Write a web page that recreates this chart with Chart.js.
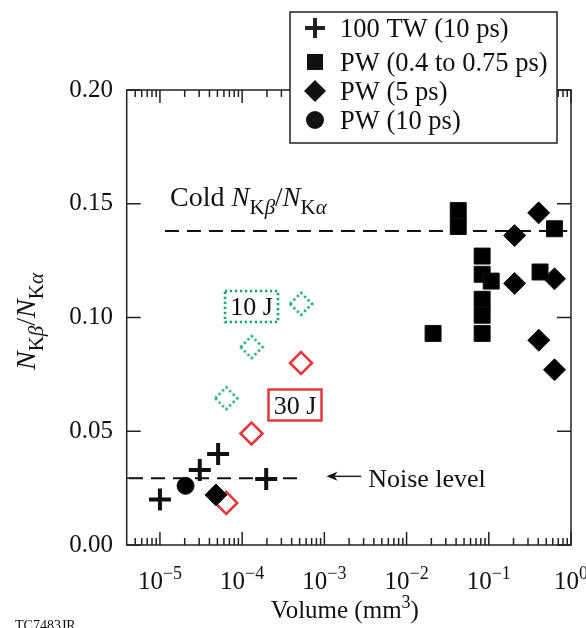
<!DOCTYPE html>
<html>
<head>
<meta charset="utf-8">
<script src="https://cdn.jsdelivr.net/npm/chart.js@4.4.1/dist/chart.umd.min.js"></script>
<style>
  html, body { margin: 0; padding: 0; background: #fff; }
  canvas { display: block; }
</style>
</head>
<body>
<canvas id="myChart" width="586" height="628"></canvas>
<script>
// values (volume in mm^3, ratio N_Kb/N_Ka)
const twVolume = [1.0e-5, 3.05e-5, 5.1e-5, 1.96e-4];
const twRatio = [0.020, 0.033, 0.040, 0.029];

const pwShortVolume = [0.021, 0.0425, 0.0425, 0.083, 0.083, 0.107, 0.083, 0.083, 0.083, 0.42, 0.63];
const pwShortRatio = [0.093, 0.147, 0.140, 0.127, 0.119, 0.116, 0.108, 0.101, 0.093, 0.120, 0.139];

const pw5Volume = [4.8e-5, 0.206, 0.206, 0.404, 0.63, 0.406, 0.63];
const pw5Ratio = [0.022, 0.136, 0.115, 0.146, 0.117, 0.090, 0.077];

const pw10Volume = [2.05e-5];
const pw10Ratio = [0.026];

const shot30Volume = [6.4e-5, 1.3e-4, 5.2e-4];
const shot30Ratio = [0.0185, 0.049, 0.080];

const shot10Volume = [6.4e-5, 1.3e-4, 5.2e-4];
const shot10Ratio = [0.0645, 0.087, 0.106];

const coldLevel = 0.138;
const coldRange = [1.15e-5, 0.9];
const noiseLevel = 0.0293;
const noiseRange = [4.2e-6, 5.7e-4];

const xDecades = [-5, -4, -3, -2, -1, 0];
const yTicks = [0, 0.05, 0.10, 0.15, 0.20];

const serif = "'Liberation Serif', 'Times New Roman', serif";
const red = "#e0393e";
const green = "#0fa86b";

function pairs(xs, ys) {
    return xs.map((x, i) => ({ x: x, y: ys[i] }));
}

// dotted hollow diamond used for the 10 J shots
function dottedDiamond(r) {
    const c = document.createElement("canvas");
    const s = Math.ceil(r * 2 + 6);
    c.width = s;
    c.height = s;
    const g = c.getContext("2d");
    const m = s / 2;
    g.strokeStyle = green;
    g.lineWidth = 2.6;
    g.setLineDash([2.2, 2.8]);
    g.beginPath();
    g.moveTo(m - r, m);
    g.lineTo(m, m - r);
    g.lineTo(m + r, m);
    g.lineTo(m, m + r);
    g.closePath();
    g.stroke();
    return c;
}

function drawRich(ctx, parts, x, y, align) {
    let w = 0;
    parts.forEach((p) => {
        ctx.font = p.font;
        p.w = ctx.measureText(p.text).width;
        w += p.w;
    });
    let cx = align === "center" ? x - w / 2 : align === "right" ? x - w : x;
    parts.forEach((p) => {
        ctx.font = p.font;
        ctx.fillText(p.text, cx, y + (p.dy || 0));
        cx += p.w;
    });
    return w;
}

function ratioLabel(size, sub) {
    const it = "italic " + size + "px " + serif;
    const rm = size + "px " + serif;
    const sRm = sub + "px " + serif;
    const sIt = "italic " + sub + "px " + serif;
    const d = Math.round(size * 0.28);
    return [
        { text: "N", font: it },
        { text: "K", font: sRm, dy: d },
        { text: "\u03B2", font: sIt, dy: d },
        { text: "/", font: rm },
        { text: "N", font: it },
        { text: "K", font: sRm, dy: d },
        { text: "\u03B1", font: sIt, dy: d },
    ];
}

const framePlugin = {
    id: "frame",
    afterDatasetsDraw(chart) {
        const ctx = chart.ctx;
        const a = chart.chartArea;
        const xs = chart.scales.x;
        const ys = chart.scales.y;
        ctx.save();
        ctx.strokeStyle = "#222";
        ctx.fillStyle = "#111";
        ctx.lineWidth = 1.5;
        ctx.strokeRect(a.left, a.top, a.right - a.left, a.bottom - a.top);

        // log ticks, top and bottom, pointing inward
        ctx.beginPath();
        for (let k = -6; k <= 0; k++) {
            for (let m = 1; m <= 9; m++) {
                const v = m * Math.pow(10, k);
                if (v < xs.min * 1.02 || v > xs.max * 1.001) continue;
                const px = xs.getPixelForValue(v);
                const len = m === 1 ? 13 : 7;
                ctx.moveTo(px, a.bottom);
                ctx.lineTo(px, a.bottom - len);
                ctx.moveTo(px, a.top);
                ctx.lineTo(px, a.top + len);
            }
        }
        yTicks.forEach((v) => {
            const py = ys.getPixelForValue(v);
            ctx.moveTo(a.left, py);
            ctx.lineTo(a.left + 14, py);
            ctx.moveTo(a.right, py);
            ctx.lineTo(a.right - 14, py);
        });
        const pn = ys.getPixelForValue(noiseLevel);
        ctx.moveTo(a.left, pn);
        ctx.lineTo(a.left + 14, pn);
        ctx.stroke();

        // tick labels
        ctx.textBaseline = "middle";
        ctx.textAlign = "left";
        yTicks.forEach((v) => {
            ctx.font = "25px " + serif;
            const t = v.toFixed(2);
            const w = ctx.measureText(t).width;
            ctx.fillText(t, 113 - w, ys.getPixelForValue(v));
        });
        ctx.textBaseline = "alphabetic";
        xDecades.forEach((k) => {
            const px = xs.getPixelForValue(Math.pow(10, k));
            const exp = k < 0 ? "\u2212" + (-k) : String(k);
            drawRich(ctx, [
                { text: "10", font: "25px " + serif },
                { text: exp, font: "18px " + serif, dy: -10 },
            ], px, 589, "center");
        });

        // axis titles
        drawRich(ctx, [
            { text: "Volume (mm", font: "25px " + serif },
            { text: "3", font: "18px " + serif, dy: -10 },
            { text: ")", font: "25px " + serif },
        ], (a.left + a.right) / 2 - 4, 618, "center");

        ctx.save();
        ctx.translate(35, (a.top + a.bottom) / 2 + 4);
        ctx.rotate(-Math.PI / 2);
        drawRich(ctx, ratioLabel(28, 21), 0, 0, "center");
        ctx.restore();

        ctx.font = "14px " + serif;
        ctx.fillText("TC7483JR", 15, 630);

        // annotations
        drawRich(ctx, [{ text: "Cold ", font: "28px " + serif }].concat(ratioLabel(27, 21)), 170, 206, "left");

        const ax0 = xs.getPixelForValue(1.06e-3);
        const ax1 = xs.getPixelForValue(2.8e-3);
        const ay = pn - 2;
        ctx.beginPath();
        ctx.moveTo(ax0 + 8, ay);
        ctx.lineTo(ax1, ay);
        ctx.stroke();
        ctx.beginPath();
        ctx.moveTo(ax0, ay);
        ctx.lineTo(ax0 + 11, ay - 4.5);
        ctx.lineTo(ax0 + 8, ay);
        ctx.lineTo(ax0 + 11, ay + 4.5);
        ctx.closePath();
        ctx.fill();
        drawRich(ctx, [{ text: "Noise level", font: "26px " + serif }], ax1 + 7, 487, "left");

        // 10 J box
        ctx.save();
        ctx.strokeStyle = green;
        ctx.lineWidth = 2.6;
        ctx.setLineDash([2.2, 2.8]);
        ctx.strokeRect(225, 291, 53, 31);
        ctx.restore();
        drawRich(ctx, [{ text: "10 J", font: "26px " + serif }], 251.5, 315, "center");

        // 30 J box
        ctx.save();
        ctx.strokeStyle = red;
        ctx.lineWidth = 2.5;
        ctx.strokeRect(268.5, 389.5, 53, 31);
        ctx.restore();
        drawRich(ctx, [{ text: "30 J", font: "26px " + serif }], 295, 414, "center");

        // legend
        ctx.fillStyle = "#fff";
        ctx.fillRect(290, 12, 267, 131);
        ctx.strokeRect(290, 12, 267, 131);
        ctx.fillStyle = "#111";
        const lx = 315;
        const ly = [28, 62, 91, 120];
        ctx.lineWidth = 4;
        ctx.beginPath();
        ctx.moveTo(lx - 10, ly[0]);
        ctx.lineTo(lx + 10, ly[0]);
        ctx.moveTo(lx, ly[0] - 10);
        ctx.lineTo(lx, ly[0] + 10);
        ctx.stroke();
        ctx.fillRect(lx - 8, ly[1] - 8, 16, 16);
        ctx.beginPath();
        ctx.moveTo(lx - 11, ly[2]);
        ctx.lineTo(lx, ly[2] - 11);
        ctx.lineTo(lx + 11, ly[2]);
        ctx.lineTo(lx, ly[2] + 11);
        ctx.closePath();
        ctx.fill();
        ctx.beginPath();
        ctx.arc(lx, ly[3], 9, 0, Math.PI * 2);
        ctx.fill();
        const names = ["100 TW (10 ps)", "PW (0.4 to 0.75 ps)", "PW (5 ps)", "PW (10 ps)"];
        names.forEach((n, i) => {
            drawRich(ctx, [{ text: n, font: "26.5px " + serif }], 340, ly[i] + 9, "left");
        });
        ctx.restore();
    },
};

const ctx = document.getElementById("myChart").getContext("2d");
const myChart = new Chart(ctx, {
    type: "scatter",
    data: {
        datasets: [
            {
                label: "100 TW (10 ps)",
                data: pairs(twVolume, twRatio),
                pointStyle: "cross",
                pointRadius: 11,
                borderWidth: 4,
                borderColor: "#111",
                backgroundColor: "#111",
            },
            {
                label: "PW (0.4 to 0.75 ps)",
                data: pairs(pwShortVolume, pwShortRatio),
                pointStyle: "rect",
                pointRadius: 11.3,
                borderWidth: 1,
                borderColor: "#111",
                backgroundColor: "#000",
            },
            {
                label: "PW (5 ps)",
                data: pairs(pw5Volume, pw5Ratio),
                pointStyle: "rectRot",
                pointRadius: 11,
                borderWidth: 1,
                borderColor: "#111",
                backgroundColor: "#000",
            },
            {
                label: "PW (10 ps)",
                data: pairs(pw10Volume, pw10Ratio),
                pointStyle: "circle",
                pointRadius: 8.5,
                borderWidth: 1,
                borderColor: "#111",
                backgroundColor: "#000",
            },
            {
                label: "30 J",
                data: pairs(shot30Volume, shot30Ratio),
                pointStyle: "rectRot",
                pointRadius: 11,
                borderWidth: 2.6,
                borderColor: red,
                backgroundColor: "#fff",
            },
            {
                label: "10 J",
                data: pairs(shot10Volume, shot10Ratio),
                pointStyle: dottedDiamond(11),
            },
            {
                label: "Cold",
                type: "line",
                data: pairs(coldRange, [coldLevel, coldLevel]),
                showLine: true,
                pointRadius: 0,
                borderColor: "#111",
                borderWidth: 2,
                borderDash: [14, 8],
                order: 10,
            },
            {
                label: "Noise",
                type: "line",
                data: pairs(noiseRange, [noiseLevel, noiseLevel]),
                showLine: true,
                pointRadius: 0,
                borderColor: "#111",
                borderWidth: 2,
                borderDash: [14, 8],
                order: 10,
            },
        ],
    },
    options: {
        responsive: false,
        animation: false,
        devicePixelRatio: 1,
        plugins: {
            legend: { display: false },
            tooltip: { enabled: false },
        },
        layout: {
            padding: { top: 90, right: 13.5, bottom: 83, left: 126.7 },
        },
        scales: {
            x: {
                type: "logarithmic",
                min: 3.94e-6,
                max: 1,
                display: false,
            },
            y: {
                min: 0,
                max: 0.2,
                display: false,
            },
        },
    },
    plugins: [framePlugin],
});
</script>
</body>
</html>
